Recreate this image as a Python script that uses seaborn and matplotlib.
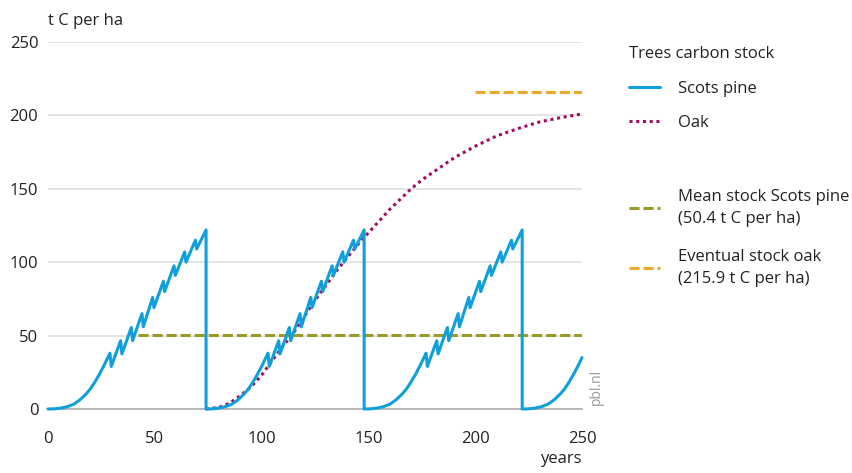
import pandas as pd
import matplotlib
matplotlib.use("Agg")
import matplotlib.pyplot as plt
import seaborn as sns
from matplotlib.lines import Line2D

# Scots pine: one rotation (stand age -> carbon stock), thinnings every ~5 years
rotation = 74
pine_age = [0, 3, 6, 9, 12, 15, 18, 20, 22, 24, 26, 28, 29, 29.6, 34, 34.6, 39, 39.6,
            44, 44.6, 49, 49.6, 54, 54.6, 59, 59.6, 64, 64.6, 69, 69.6, 74]
pine_stock = [0, 0.1, 0.6, 1.6, 3.2, 6.3, 10.5, 14, 18.5, 23.5, 29, 35, 38, 29, 46.5,
              37.5, 55.5, 46.5, 65, 56, 76, 69, 87, 80, 97.5, 91, 107, 100, 115, 109, 122]

# Oak, planted after the first pine rotation
oak_year = [74, 80, 85, 90, 95, 100, 105, 110, 115, 120, 125, 130, 135, 140, 145,
            150, 155, 160, 165, 170, 175, 180, 185, 190, 195, 200, 210, 220, 230,
            240, 250]
oak_stock = [0, 1, 4, 9, 15, 23, 33, 43, 52, 63, 74, 84, 94, 103, 112,
             120, 128, 136, 143, 150, 156, 161, 166, 171, 175, 179, 186, 191, 195.5,
             198.5, 201]

mean_pine = 50.4
mean_start = 42
eventual_oak = 215.9
eventual_start = 200
end_year = 250

c_pine = "#0fa0dc"
c_oak = "#a00d62"
c_mean = "#9a9a24"
c_oak_end = "#eaa92a"
c_text = "#222222"
c_axis = "#b4b4b4"

# repeat the rotation over the whole period
rows = []
for k in range(4):
    for a, v in zip(pine_age, pine_stock):
        t = a + k * rotation
        if t <= end_year:
            rows.append((t, v))
pine = pd.DataFrame(rows, columns=["year", "stock"])
oak = pd.DataFrame({"year": oak_year, "stock": oak_stock})

sns.set_style("white")
plt.rcParams['font.family'] = ['Open Sans', 'DejaVu Sans']
fs = 12

fig = plt.figure(figsize=(8.52, 4.73), dpi=100)
ax = fig.add_axes([48 / 852, 1 - 409 / 473, 534 / 852, 367 / 473])

dash = (0, (3.3, 1.3))
dot = (0, (1, 1.2))

sns.lineplot(data=pine, x="year", y="stock", estimator=None, sort=False,
             color=c_pine, lw=2.2, clip_on=False, zorder=5, ax=ax)
sns.lineplot(data=oak, x="year", y="stock", estimator=None, sort=False,
             color=c_oak, lw=2.2, linestyle=dot, clip_on=False, zorder=4, ax=ax)
ax.hlines(mean_pine, mean_start, end_year, color=c_mean, lw=2.2, linestyle=dash, zorder=3)
ax.hlines(eventual_oak, eventual_start, end_year, color=c_oak_end, lw=2.2, linestyle=dash, zorder=3)

ax.set_xlim(0, end_year)
ax.set_ylim(0, 250)
ax.set_xticks(range(0, 251, 50))
ax.set_xticks(range(25, 250, 50), minor=True)
ax.set_yticks(range(0, 251, 50))
ax.grid(axis="y", color="#dcdcdc", lw=1.1)
ax.set_axisbelow(True)
for s in ["top", "right", "left"]:
    ax.spines[s].set_visible(False)
ax.spines["bottom"].set_color(c_axis)
ax.spines["bottom"].set_linewidth(1.3)
ax.spines["bottom"].set_zorder(2)
ax.tick_params(axis="x", which="both", direction="out", length=6, width=1.1,
               color=c_axis, labelsize=fs, labelcolor=c_text, pad=10)
ax.tick_params(axis="y", length=0, labelsize=fs, labelcolor=c_text, pad=7)

ax.set_xlabel("years", loc="right", fontsize=fs, color=c_text, labelpad=3)
ax.set_ylabel("")
ax.text(0, 1.057, "t C per ha", transform=ax.transAxes, fontsize=fs,
        color=c_text, va="center", ha="left")
ax.text(1.026, 0.01, "pbl.nl", transform=ax.transAxes, rotation=90,
        fontsize=10, color="#9a9a9a", va="bottom", ha="center")

h1 = [Line2D([], [], color=c_pine, lw=2.2),
      Line2D([], [], color=c_oak, lw=2.2, linestyle=dot)]
leg1 = fig.legend(h1, ["Scots pine", "Oak"], title="Trees carbon stock",
                  loc="upper left", bbox_to_anchor=(629 / 852, 1 - 46 / 473),
                  frameon=False, alignment="left", fontsize=fs, title_fontsize=fs,
                  handlelength=1.85, handletextpad=1.1, labelspacing=1.12,
                  borderpad=0, borderaxespad=0)
leg1.get_title().set_color(c_text)
for t in leg1.get_texts():
    t.set_color(c_text)

h2 = [Line2D([], [], color=c_mean, lw=2.2, linestyle=dash),
      Line2D([], [], color=c_oak_end, lw=2.2, linestyle=dash)]
leg2 = fig.legend(h2, ["Mean stock Scots pine\n(50.4 t C per ha)",
                       "Eventual stock oak\n(215.9 t C per ha)"],
                  loc="upper left", bbox_to_anchor=(629 / 852, 1 - 189 / 473),
                  frameon=False, fontsize=fs, handlelength=1.85, handletextpad=1.1,
                  labelspacing=1.31, borderpad=0, borderaxespad=0)
for t in leg2.get_texts():
    t.set_color(c_text)
    t.set_linespacing(1.5)

fig.savefig("out.png", dpi=100)
